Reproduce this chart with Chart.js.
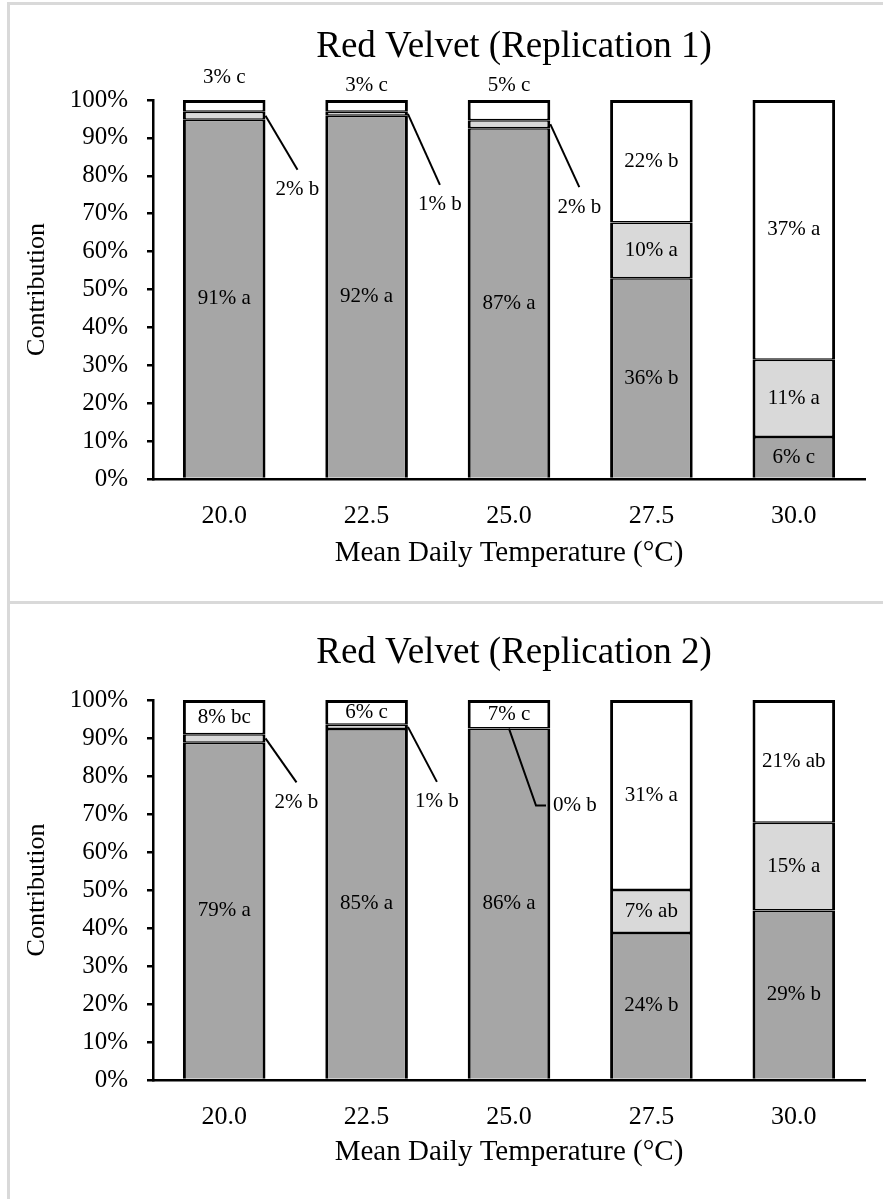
<!DOCTYPE html>
<html>
<head>
<meta charset="utf-8">
<script src="https://cdn.jsdelivr.net/npm/chart.js@4.4.1/dist/chart.umd.min.js"></script>
<style>
  html, body { margin: 0; padding: 0; background: #ffffff; }
  #page { position: relative; width: 883px; height: 1199px; overflow: hidden; background: #ffffff; }
  .panel { position: absolute; left: 0; width: 883px; }
  .rule-h { position: absolute; height: 3px; background: #d9d9d9; }
  .rule-v { position: absolute; width: 3px; background: #d9d9d9; }
  canvas { display: block; }
</style>
</head>
<body>
<div id="page">
  <div class="panel" style="top:0; height:600px;"><canvas id="rep1" width="883" height="600"></canvas></div>
  <div class="panel" style="top:600px; height:599px;"><canvas id="rep2" width="883" height="599"></canvas></div>
  <div class="rule-h" style="left:7px; right:0; top:2px;"></div>
  <div class="rule-h" style="left:7px; right:0; top:601px;"></div>
  <div class="rule-v" style="left:7px; top:2px; bottom:0;"></div>
</div>
<script>
// Mean daily temperature categories (°C)
const temperatures = ['20.0', '22.5', '25.0', '27.5', '30.0'];

// Replication 1 contributions (%) and significance letters
const rep1Dark = [91, 92, 87, 36, 6];
const rep1Light = [2, 1, 2, 10, 11];
const rep1White = [3, 3, 5, 22, 37];
const rep1DarkLetters = ['a', 'a', 'a', 'b', 'c'];
const rep1LightLetters = ['b', 'b', 'b', 'a', 'a'];
const rep1WhiteLetters = ['c', 'c', 'c', 'b', 'a'];

// Replication 2 contributions (%) and significance letters
const rep2Dark = [79, 85, 86, 24, 29];
const rep2Light = [2, 1, 0, 7, 15];
const rep2White = [8, 6, 7, 31, 21];
const rep2DarkLetters = ['a', 'a', 'a', 'b', 'b'];
const rep2LightLetters = ['b', 'b', 'b', 'ab', 'a'];
const rep2WhiteLetters = ['bc', 'c', 'c', 'a', 'ab'];

// Y axis ticks (percent of stacked total)
const yTickValues = [0, 10, 20, 30, 40, 50, 60, 70, 80, 90, 100];

const FONT = "'Liberation Serif', 'Times New Roman', serif";
const COLORS = { dark: '#a6a6a6', light: '#d9d9d9', white: '#ffffff' };

// How each segment label is placed: in = centred in segment, above = over the bar,
// lead = to the right with a slanted leader, elbow = leader with a short horizontal run
const rep1Placement = {
  dark:  ['in', 'in', 'in', 'in', 'in'],
  light: [{ type: 'lead', dx: 32, dy: 74 }, { type: 'lead', dx: 32, dy: 91 }, { type: 'lead', dx: 29, dy: 83 }, 'in', 'in'],
  white: [{ type: 'above', dy: -23 }, { type: 'above', dy: -15 }, { type: 'above', dy: -15 }, 'in', 'in']
};
const rep2Placement = {
  dark:  ['in', 'in', 'in', 'in', 'in'],
  light: [{ type: 'lead', dx: 31, dy: 64 }, { type: 'lead', dx: 29, dy: 75 }, { type: 'elbow', dx: 27, dy: 77 }, 'in', 'in'],
  white: ['in', 'in', 'in', 'in', 'in']
};

function toShare(values, totals) {
  return values.map((v, i) => v / totals[i] * 100);
}

function makeChart(canvasId, cfg) {
  const totals = cfg.dark.map((v, i) => v + cfg.light[i] + cfg.white[i]);
  const series = [
    { key: 'dark', raw: cfg.dark, letters: cfg.darkLetters },
    { key: 'light', raw: cfg.light, letters: cfg.lightLetters },
    { key: 'white', raw: cfg.white, letters: cfg.whiteLetters }
  ];

  const borders = {
    dark:  { top: 1.5, bottom: 0, left: 3, right: 3 },
    light: { top: 1.5, bottom: 1.5, left: 3, right: 3 },
    white: { top: 3, bottom: 1.5, left: 3, right: 3 }
  };

  const datasets = series.map(s => ({
    data: toShare(s.raw, totals),
    backgroundColor: COLORS[s.key],
    borderColor: '#000000',
    borderWidth: borders[s.key],
    borderSkipped: false,
    barPercentage: 0.58,
    categoryPercentage: 1.0
  }));

  const labelPlugin = {
    id: 'segmentLabels',
    afterDatasetsDraw(chart) {
      const ctx = chart.ctx;
      ctx.save();
      ctx.fillStyle = '#000';
      ctx.strokeStyle = '#000';
      ctx.lineWidth = 2;
      ctx.font = '21px ' + FONT;
      ctx.textBaseline = 'middle';
      series.forEach((s, d) => {
        const meta = chart.getDatasetMeta(d);
        meta.data.forEach((bar, i) => {
          const text = s.raw[i] + '% ' + s.letters[i];
          const place = cfg.placement[s.key][i];
          const top = Math.min(bar.y, bar.base);
          const bottom = Math.max(bar.y, bar.base);
          const midY = (top + bottom) / 2;
          const right = bar.x + bar.width / 2;
          if (place === 'in') {
            ctx.textAlign = 'center';
            ctx.fillText(text, bar.x, midY);
          } else if (place.type === 'above') {
            ctx.textAlign = 'center';
            ctx.fillText(text, bar.x, top + place.dy);
          } else if (place.type === 'lead') {
            const lx = right + place.dx, ly = midY + place.dy;
            ctx.beginPath();
            ctx.moveTo(right, midY);
            ctx.lineTo(lx, ly - 20);
            ctx.stroke();
            ctx.textAlign = 'center';
            ctx.fillText(text, lx, ly);
          } else if (place.type === 'elbow') {
            const ax = bar.x, ay = midY;
            const ex = ax + place.dx, ey = ay + place.dy;
            ctx.beginPath();
            ctx.moveTo(ax, ay);
            ctx.lineTo(ex, ey);
            ctx.lineTo(ex + 10, ey);
            ctx.stroke();
            ctx.textAlign = 'left';
            ctx.fillText(text, ex + 17, ey);
          }
        });
      });
      // chart title
      ctx.font = '37px ' + FONT;
      ctx.textAlign = 'center';
      const ca = chart.chartArea;
      ctx.fillText(cfg.title, (ca.left + ca.right) / 2 + 5, cfg.titleY);
      ctx.restore();
    }
  };

  const canvas = document.getElementById(canvasId);
  return new Chart(canvas, {
    type: 'bar',
    data: { labels: temperatures, datasets },
    options: {
      responsive: false,
      animation: false,
      events: [],
      layout: { padding: { top: cfg.areaTop, right: 18, left: 0, bottom: 0 } },
      plugins: { legend: { display: false }, tooltip: { enabled: false }, title: { display: false } },
      scales: {
        x: {
          stacked: true,
          offset: true,
          grid: { display: false, drawTicks: false },
          border: { display: true, color: '#000', width: 2.5 },
          ticks: { color: '#000', font: { family: FONT, size: 26 }, padding: 22, maxRotation: 0 },
          title: { display: true, text: 'Mean Daily Temperature (°C)', color: '#000',
                   font: { family: FONT, size: 29 }, padding: { top: 0, bottom: 29 } },
          afterFit(scale) { scale.height = canvas.height - cfg.areaBottom; }
        },
        y: {
          stacked: true,
          min: 0,
          max: 100,
          afterBuildTicks(scale) { scale.ticks = yTickValues.map(v => ({ value: v })); },
          grid: { display: true, drawOnChartArea: false, drawTicks: true, tickLength: 6, color: '#000', lineWidth: 2.5 },
          border: { display: true, color: '#000', width: 2.5 },
          ticks: { color: '#000', font: { family: FONT, size: 25 }, padding: 19, callback: v => v + '%' },
          title: { display: true, text: 'Contribution', color: '#000',
                   font: { family: FONT, size: 26 }, padding: { top: 22, bottom: 0 } },
          afterFit(scale) { scale.width = 153; }
        }
      }
    },
    plugins: [labelPlugin]
  });
}

makeChart('rep1', {
  title: 'Red Velvet (Replication 1)', titleY: 47, areaTop: 100, areaBottom: 479,
  dark: rep1Dark, light: rep1Light, white: rep1White,
  darkLetters: rep1DarkLetters, lightLetters: rep1LightLetters, whiteLetters: rep1WhiteLetters,
  placement: rep1Placement
});

makeChart('rep2', {
  title: 'Red Velvet (Replication 2)', titleY: 53, areaTop: 100, areaBottom: 480,
  dark: rep2Dark, light: rep2Light, white: rep2White,
  darkLetters: rep2DarkLetters, lightLetters: rep2LightLetters, whiteLetters: rep2WhiteLetters,
  placement: rep2Placement
});
</script>
</body>
</html>
